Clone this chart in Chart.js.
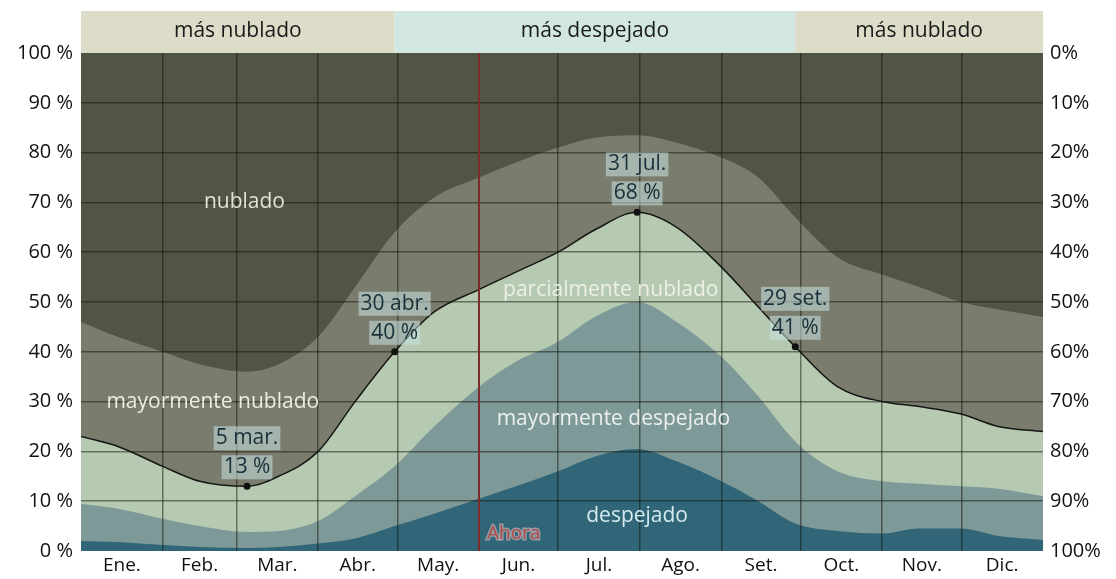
<!DOCTYPE html>
<html>
<head>
<meta charset="utf-8">
<script src="https://cdn.jsdelivr.net/npm/chart.js@4"></script>
<style>
  body { margin: 0; background: #fff; }
</style>
</head>
<body>
<canvas id="cloudchart" width="1116" height="579"></canvas>
<script>
/* day of year for each sample and the cumulative cloud cover bands (percent) */
const days = [0, 14, 31, 45, 63, 75, 90, 104, 119, 134, 151, 165, 181, 195, 211, 226, 243, 257, 271, 287, 304, 318, 334, 348, 365];
const clear = [2, 1.8, 1.2, 0.8, 0.6, 0.8, 1.5, 2.5, 5, 7.5, 10.5, 13, 16, 19, 20.5, 18, 14, 10, 5.5, 4, 3.5, 4.5, 4.5, 3, 2.2];
const mostlyClear = [9.5, 8.5, 6.5, 5, 3.8, 4, 6, 11, 17, 25, 33, 38, 42, 47, 50, 46, 39, 31, 22, 16, 14, 13.5, 13, 12.5, 11];
const partlyCloudy = [23, 21, 17, 14, 13, 15, 20, 30, 40, 48, 52.5, 56, 60, 64.5, 68, 65, 57, 49, 41, 33, 30, 29, 27.5, 25, 24];
const mostlyCloudy = [46, 43, 40, 37.5, 36, 37.5, 43, 53, 64, 71, 75, 78, 81, 83, 83.5, 82, 79, 75, 67, 59, 55.5, 53, 50, 48.5, 47];

/* marked points on the black line */
const keyDays = [63, 119, 211, 271];
const keyValues = [13, 40, 68, 41];
const keyDates = ['5 mar.', '30 abr.', '31 jul.', '29 set.'];

const months = ['Ene.', 'Feb.', 'Mar.', 'Abr.', 'May.', 'Jun.', 'Jul.', 'Ago.', 'Set.', 'Oct.', 'Nov.', 'Dic.'];
const monthStarts = [0, 31, 59, 90, 120, 151, 181, 212, 243, 273, 304, 334, 365];
const yTicks = [0, 10, 20, 30, 40, 50, 60, 70, 80, 90, 100];
const nowDay = 151;

const FONT = "'Open Sans', 'Noto Sans', sans-serif";
const colors = {
  cloudy: '#515545',
  mostlyCloudy: '#7a7d6d',
  partly: '#b5cab0',
  mostlyClear: '#7d9998',
  clear: '#316678',
  grid: 'rgba(20, 20, 10, 0.5)'
};

const monthMids = months.map((m, i) => (monthStarts[i] + monthStarts[i + 1]) / 2);
const toPoints = arr => days.map((d, i) => ({ x: d, y: arr[i] }));

/* background of the plot and the season band above it */
const backgroundPlugin = {
  id: 'background',
  beforeDraw(chart) {
    const { ctx, chartArea: a, scales } = chart;
    ctx.save();
    ctx.fillStyle = colors.cloudy;
    ctx.fillRect(a.left, a.top, a.right - a.left, a.bottom - a.top);

    const x1 = scales.x.getPixelForValue(keyDays[1]);
    const x2 = scales.x.getPixelForValue(keyDays[3]);
    const bands = [
      [a.left, x1, '#dcdcc9', 'más nublado'],
      [x1, x2, '#d2e6e2', 'más despejado'],
      [x2, a.right, '#dcdcc9', 'más nublado']
    ];
    ctx.font = '21px ' + FONT;
    ctx.textAlign = 'center';
    ctx.textBaseline = 'middle';
    bands.forEach(b => {
      ctx.fillStyle = b[2];
      ctx.fillRect(b[0], 11, b[1] - b[0], a.top - 11);
      ctx.fillStyle = '#1a1a1a';
      ctx.fillText(b[3], (b[0] + b[1]) / 2, 31);
    });
    ctx.restore();
  }
};

/* names of the bands, placed in data coordinates */
const areaLabels = [
  ['nublado', 62, 70, '#e2e2d4'],
  ['mayormente nublado', 50, 30, '#ececdf'],
  ['parcialmente nublado', 201, 52.5, '#eef0e6'],
  ['mayormente despejado', 202, 26.5, '#eef0ee'],
  ['despejado', 211, 7, '#d4eaee']
];
const areaLabelPlugin = {
  id: 'areaLabels',
  afterDraw(chart) {
    const { ctx, scales } = chart;
    ctx.save();
    ctx.font = '21px ' + FONT;
    ctx.textAlign = 'center';
    ctx.textBaseline = 'middle';
    areaLabels.forEach(l => {
      ctx.fillStyle = l[3];
      ctx.fillText(l[0], scales.x.getPixelForValue(l[1]), scales.y.getPixelForValue(l[2]));
    });
    ctx.restore();
  }
};

/* now line, key point notes */
const notesPlugin = {
  id: 'notes',
  afterDraw(chart) {
    const { ctx, chartArea: a, scales } = chart;
    ctx.save();
    const nx = scales.x.getPixelForValue(nowDay);
    ctx.strokeStyle = '#7e2b2b';
    ctx.lineWidth = 2;
    ctx.beginPath();
    ctx.moveTo(nx, a.top);
    ctx.lineTo(nx, a.bottom);
    ctx.stroke();

    ctx.font = '19px ' + FONT;
    ctx.textAlign = 'left';
    ctx.textBaseline = 'middle';
    ctx.lineWidth = 3;
    ctx.strokeStyle = 'rgba(215, 190, 190, 0.6)';
    ctx.strokeText('Ahora', nx + 8, a.bottom - 17);
    ctx.fillStyle = '#b04a4a';
    ctx.fillText('Ahora', nx + 8, a.bottom - 17);

    ctx.font = '21px ' + FONT;
    ctx.textAlign = 'center';
    keyDays.forEach((d, i) => {
      const px = scales.x.getPixelForValue(d);
      const py = scales.y.getPixelForValue(keyValues[i]);
      const lines = [[keyDates[i], py - 48], [keyValues[i] + ' %', py - 19]];
      lines.forEach(t => {
        const w = ctx.measureText(t[0]).width;
        ctx.fillStyle = 'rgba(200, 226, 226, 0.55)';
        ctx.fillRect(px - w / 2 - 2, t[1] - 12, w + 4, 24);
        ctx.fillStyle = '#17303a';
        ctx.fillText(t[0], px, t[1]);
      });
    });
    ctx.restore();
  }
};

const ctx = document.getElementById('cloudchart').getContext('2d');

new Chart(ctx, {
  type: 'line',
  data: {
    datasets: [
      {
        data: keyDays.map((d, i) => ({ x: d, y: keyValues[i] })),
        showLine: false,
        pointRadius: 3.5,
        pointBackgroundColor: '#111',
        pointBorderWidth: 0
      },
      { data: toPoints(clear), fill: 'origin', backgroundColor: colors.clear, borderWidth: 0 },
      { data: toPoints(mostlyClear), fill: 'origin', backgroundColor: colors.mostlyClear, borderWidth: 0 },
      { data: toPoints(partlyCloudy), fill: 'origin', backgroundColor: colors.partly, borderColor: '#161616', borderWidth: 1.5 },
      { data: toPoints(mostlyCloudy), fill: 'origin', backgroundColor: colors.mostlyCloudy, borderWidth: 0 }
    ]
  },
  options: {
    responsive: false,
    animation: false,
    layout: { padding: { top: 53 } },
    elements: {
      point: { radius: 0 },
      line: { cubicInterpolationMode: 'monotone' }
    },
    plugins: {
      legend: { display: false },
      tooltip: { enabled: false }
    },
    scales: {
      x: {
        type: 'linear',
        min: 0,
        max: 365,
        afterBuildTicks(scale) {
          scale.ticks = monthStarts.concat(monthMids).sort((a, b) => a - b).map(v => ({ value: v }));
        },
        afterFit(scale) { scale.height = 28; },
        border: { display: false },
        grid: {
          z: 1,
          drawTicks: false,
          lineWidth: 1.5,
          color: c => (c.tick && monthStarts.includes(c.tick.value) && c.tick.value > 0 && c.tick.value < 365) ? colors.grid : 'transparent'
        },
        ticks: {
          autoSkip: false,
          maxRotation: 0,
          padding: 3,
          color: '#111',
          font: { size: 19, family: FONT },
          callback: v => {
            const i = monthMids.indexOf(v);
            return i >= 0 ? months[i] : '';
          }
        }
      },
      y: {
        min: 0,
        max: 100,
        afterBuildTicks(scale) { scale.ticks = yTicks.map(v => ({ value: v })); },
        afterFit(scale) { scale.width = 81; },
        border: { display: false },
        grid: {
          z: 1,
          drawTicks: false,
          lineWidth: 1.5,
          color: c => (c.tick && c.tick.value > 0 && c.tick.value < 100) ? colors.grid : 'transparent'
        },
        ticks: {
          padding: 8,
          color: '#111',
          font: { size: 20, family: FONT },
          callback: v => v + ' %'
        }
      },
      y2: {
        position: 'right',
        reverse: true,
        min: 0,
        max: 100,
        afterBuildTicks(scale) { scale.ticks = yTicks.map(v => ({ value: v })); },
        afterFit(scale) { scale.width = 73; },
        border: { display: false },
        grid: { display: false, drawTicks: false },
        ticks: {
          padding: 7,
          color: '#111',
          font: { size: 20, family: FONT },
          callback: v => v + '%'
        }
      }
    }
  },
  plugins: [backgroundPlugin, areaLabelPlugin, notesPlugin]
});
</script>
</body>
</html>
